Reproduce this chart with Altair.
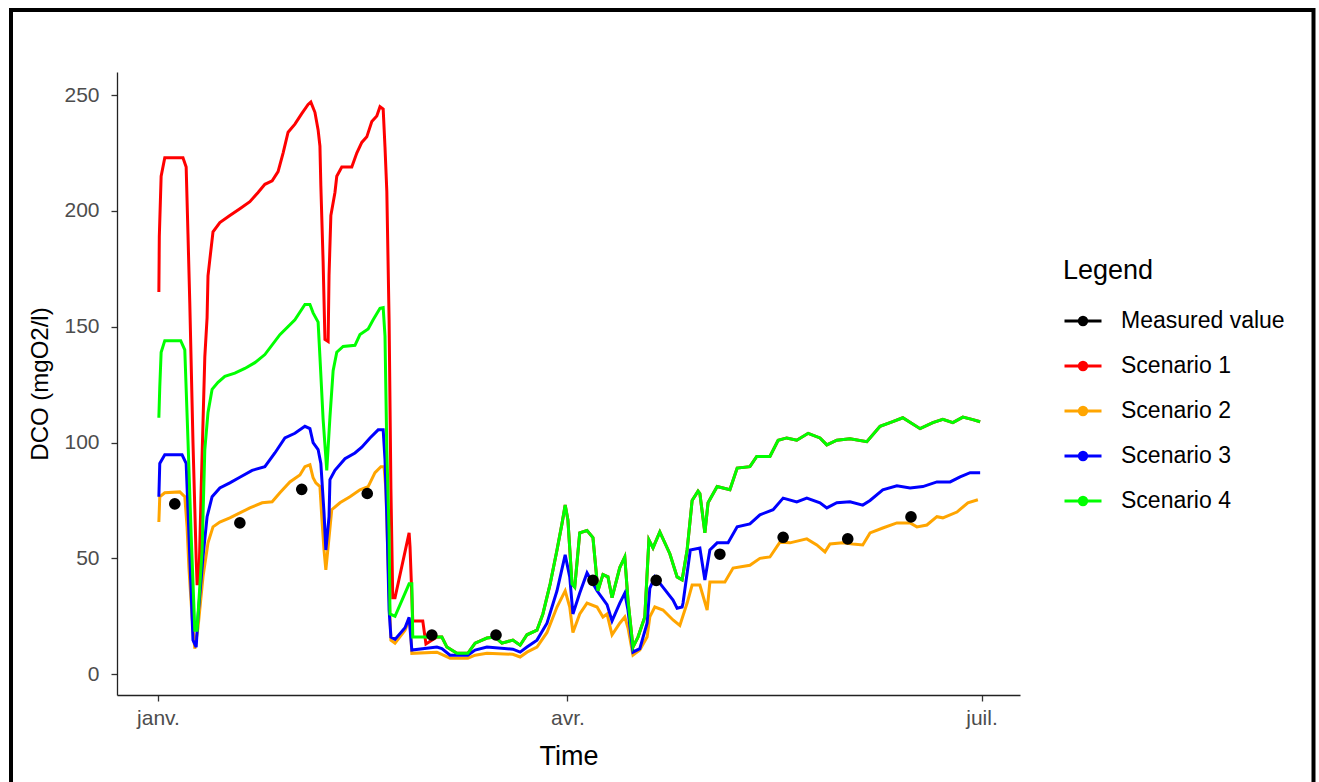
import altair as alt
import pandas as pd

# ---------------- data (day offsets from 1 Jan, values in mgO2/l) ----------------
SERIES_NAMES = ["Measured value", "Scenario 1", "Scenario 2", "Scenario 3", "Scenario 4"]
SERIES_COLORS = ["#000000", "#FF0000", "#FFA500", "#0000FF", "#00FF00"]

S1_DAYS = [0.2, 0.3, 0.7, 1.5, 5.5, 6.2, 6.6, 7.0, 7.7, 8.4, 8.6, 9.0, 9.5, 10.3, 10.8,
           11.0, 11.4, 12.1, 13.6, 15.8, 18.0, 20.2, 22.0, 23.5, 25.1, 26.4, 27.5, 28.6,
           30.1, 31.6, 33.0, 33.6, 34.5, 35.2, 35.6, 35.8, 36.3, 36.7, 37.4, 37.6, 38.0,
           38.9, 39.3, 40.4, 42.6, 43.7, 44.8, 45.9, 47.0, 48.1, 48.8, 49.5, 49.9, 50.3,
           50.8, 51.2, 51.6, 52.1, 55.2, 55.4, 56.0, 58.2, 58.9]
S1_VALS = [165, 189, 215, 223, 223, 219, 190, 160, 100, 50, 39, 39, 80, 137, 154,
           172, 179, 191, 195, 198, 201, 204, 208, 211.5, 213, 217, 225, 234,
           237.5, 242, 246, 247, 242.6, 235, 228, 211, 178, 144.5, 143.6, 172, 198,
           208, 215, 219, 219, 225, 229.6, 232, 238.6, 241, 245, 244, 227.5, 208.5,
           153, 80, 33, 33, 61, 55, 23, 23, 13]

S4_DAYS = [0.2, 0.4, 0.7, 1.5, 5.0, 5.9, 6.6, 7.3, 8.1, 8.6,
           9.7, 10.3, 11.0, 11.9, 13.2, 14.7, 16.9, 19.1, 21.3, 23.5,
           26.8, 30.1, 32.3, 33.4, 34.1, 35.2, 35.6, 36.3, 37.1, 37.8,
           38.5, 39.3, 40.7, 43.3, 44.4, 46.2, 47.3, 48.8, 49.5, 49.9,
           50.3, 50.8, 51.0, 52.1, 55.2, 55.8, 56.0, 61.3, 62.4, 63.5,
           65.7, 68.1, 69.7, 72.3, 74.1, 75.6, 78.0, 79.6, 81.1, 83.3,
           84.6, 86.2, 87.7, 88.8, 89.5, 90.1, 91.0, 91.6, 92.7, 94.3,
           95.6, 96.7, 97.8, 98.9, 99.8, 101.5, 102.6, 103.3, 104.4, 105.5,
           107.0, 107.9, 108.8, 110.3, 112.5, 114.1, 115.2, 116.3, 117.4, 118.7,
           119.1, 120.2, 120.9, 122.9, 125.7, 127.3, 130.1, 131.6, 134.5, 136.3,
           138.2, 140.4, 142.9, 145.5, 147.0, 149.2, 152.1, 155.8, 158.7, 161.5,
           163.7, 167.5, 170.3, 172.5, 174.7, 176.9, 178.9, 180.7]
S4_VALS = [110.7, 124, 139, 144, 144, 140, 101, 60, 19, 19,
           53.6, 97, 113, 123, 126, 128.6, 130, 132, 134.5, 138,
           146.6, 153, 159.6, 159.6, 156, 152, 137, 110, 88, 111,
           131, 139, 141.5, 142, 146.6, 149, 153, 158, 158.3, 146,
           97, 61, 26, 25, 39, 39, 16, 16, 16, 11.7,
           9, 9, 13.4, 15.6, 16, 13.4, 14.7, 12.5, 17, 19,
           26, 39, 53.6, 65, 73, 66.6, 39, 37.6, 61, 62,
           59, 36, 43, 42, 33, 46, 50.6, 32, 11.7, 16,
           24.7, 58, 54.5, 61.4, 52, 42, 40.7, 53.6, 75, 79,
           78, 61, 74, 81, 79.6, 89, 89.6, 94, 94, 101,
           102, 101, 104, 102, 99, 101, 101.6, 100.4, 107, 109,
           110.7, 106, 108.6, 110, 108.6, 111, 110, 109]

S3_DAYS = [0.2, 0.4, 1.5, 5.3, 6.2, 6.6, 7.7, 8.4, 8.8, 9.9,
           10.8, 11.9, 13.6, 15.8, 18.0, 20.7, 23.5, 25.7, 27.9, 30.1,
           32.3, 33.4, 34.1, 35.2, 35.8, 36.5, 36.9, 37.6, 37.8, 38.9,
           41.1, 43.3, 44.8, 46.6, 48.4, 49.5, 49.9, 50.3, 50.8, 51.2,
           52.1, 54.3, 55.2, 55.8, 61.3, 62.4, 64.2, 68.1, 69.7, 72.3,
           78.0, 79.6, 81.1, 83.3, 85.5, 87.7, 89.5, 90.5, 91.2, 92.7,
           94.3, 96.5, 98.7, 99.8, 101.5, 102.6, 103.3, 104.4, 105.9, 107.5,
           108.1, 109.2, 110.8, 113.2, 114.1, 115.2, 115.4, 117.0, 119.1, 120.2,
           121.3, 122.9, 125.3, 127.3, 130.1, 132.3, 135.2, 137.4, 140.4, 142.6,
           145.5, 147.0, 149.2, 152.1, 154.9, 156.5, 159.3, 162.4, 165.3, 168.1,
           171.2, 174.1, 176.3, 178.5, 180.7]
S3_VALS = [76.6, 91, 94.7, 94.7, 91, 71, 14.7, 11.7, 24.7, 50.6,
           68, 76.6, 80.4, 82.6, 85, 88, 89.6, 95.5, 102, 104,
           107, 106, 100, 97, 91, 69.6, 53.6, 68, 84, 88,
           93, 95.5, 98, 102, 105.5, 105.5, 92.6, 68, 27.7, 16,
           15, 20, 24.5, 10.4, 11.7, 11, 8.2, 8.2, 10.4, 11.7,
           10.8, 9.5, 11.7, 14.7, 22, 36, 51.5, 42, 26, 35,
           43.7, 36, 30, 23, 30.7, 35, 27.7, 9.5, 11, 22,
           37, 42, 38, 32, 28.5, 29, 30.7, 53.6, 54.5, 40.7,
           53.6, 56.7, 56.7, 63.6, 64.9, 68.8, 71, 76, 74.4, 76,
           74, 71.8, 74, 74.4, 73, 75, 79.6, 81.3, 80.4, 81,
           83, 83, 85.2, 87, 87]

S2_DAYS = [0.2, 0.4, 1.5, 4.8, 5.9, 6.4, 6.8, 7.5, 8.1, 8.8,
           9.9, 11.0, 12.1, 13.6, 15.8, 18.0, 20.2, 22.9, 25.1, 26.8,
           29.0, 31.2, 32.3, 33.4, 34.1, 34.7, 35.6, 36.0, 36.5, 36.9,
           37.6, 38.2, 40.0, 42.2, 44.4, 46.2, 47.7, 49.0, 49.7, 50.1,
           50.5, 50.8, 51.2, 52.1, 54.3, 54.9, 55.4, 55.8, 61.3, 64.2,
           68.1, 69.7, 72.3, 78.0, 79.6, 81.1, 83.3, 85.5, 87.7, 89.5,
           90.5, 91.2, 92.7, 94.3, 96.5, 97.8, 98.7, 99.8, 101.5, 102.6,
           103.3, 104.4, 105.9, 107.5, 108.1, 109.2, 111.0, 113.2, 114.7, 116.3,
           117.4, 119.1, 120.7, 121.3, 124.6, 126.4, 130.1, 132.3, 134.5, 136.7,
           138.9, 142.6, 144.8, 146.6, 147.7, 150.5, 152.7, 154.9, 156.5, 159.3,
           162.4, 165.3, 166.8, 169.0, 171.2, 172.5, 175.6, 178.0, 180.2]
S2_VALS = [65.7, 76.6, 78.3, 78.7, 76.6, 63.6, 46, 24.7, 11, 20,
           42, 56.7, 63.6, 65.7, 67.5, 69.6, 71.8, 74, 74.4, 78.3,
           83, 86, 89.6, 90.4, 84.8, 82.6, 81, 68, 53.6, 45,
           59, 71, 74, 76.6, 79.6, 81, 87, 89.6, 89.6, 79.6,
           53.6, 35, 14.7, 13.4, 19, 22, 23, 9, 9.5, 6.9,
           6.9, 8.2, 9, 8.6, 7.4, 9.5, 11.7, 18, 29, 36,
           29, 18, 26, 30.7, 29, 24.7, 26, 17, 22, 24.7,
           20, 8.2, 10.4, 16, 24.7, 29, 27.7, 23.4, 21, 30.7,
           38.5, 38.5, 27.7, 39.8, 39.8, 45.8, 47, 50, 50.6, 57,
           56.7, 58.4, 55.8, 52.8, 56.2, 56.7, 56.2, 55.8, 61, 63.1,
           65.3, 65.3, 63.6, 64.4, 68, 67.5, 70, 74, 75.3]

MEAS_DAYS = [3.7, 18.0, 31.6, 46.0, 60.2, 74.3, 95.6, 109.5, 123.5, 137.4, 151.6, 165.5]
MEAS_VALS = [73.5, 65.3, 79.8, 78.0, 16.9, 16.9, 40.5, 40.5, 51.8, 59.1, 58.4, 67.9]

# ---------------- build tables ----------------
BASE = pd.Timestamp("2021-01-01")


def iso(days):
    return [(BASE + pd.Timedelta(days=float(d))).strftime("%Y-%m-%dT%H:%M:%SZ") for d in days]


# Scenario 1 coincides with Scenario 4 after early February (hidden underneath)
s1_days = S1_DAYS + [d for d in S4_DAYS if d > S1_DAYS[-1]]
s1_vals = S1_VALS + [v for d, v in zip(S4_DAYS, S4_VALS) if d > S1_DAYS[-1]]

series = [
    ("Scenario 1", s1_days, s1_vals),
    ("Scenario 2", S2_DAYS, S2_VALS),
    ("Scenario 3", S3_DAYS, S3_VALS),
    ("Scenario 4", S4_DAYS, S4_VALS),
]

FONT = "Liberation Sans"

x_scale = alt.Scale(
    type="utc",
    domain=[alt.DateTime(year=2020, month=12, date=23, utc=True),
            alt.DateTime(year=2021, month=7, date=9, hours=11, utc=True)],
)
y_scale = alt.Scale(domain=[-9, 260], nice=False, zero=False)
color_scale = alt.Scale(domain=SERIES_NAMES, range=SERIES_COLORS)

x_axis = alt.Axis(
    values=[alt.DateTime(year=2021, month=m, date=1, utc=True) for m in (1, 4, 7)],
    labelExpr="['janv.','févr.','mars','avr.','mai','juin','juil.','août','sept.','oct.','nov.','déc.'][utcmonth(datum.value)]",
    title="Time", grid=False,
)
y_axis = alt.Axis(values=[0, 50, 100, 150, 200, 250], title="DCO (mgO2/l)", grid=False)

SYMBOL = ("M-1,0L1,0 "
          "M-0.2,0A0.2,0.2 0 1,0 0.2,0A0.2,0.2 0 1,0 -0.2,0 "
          "M-0.08,0A0.08,0.08 0 1,0 0.08,0A0.08,0.08 0 1,0 -0.08,0")

legend = alt.Legend(
    title="Legend", orient="none", legendX=946, legendY=186,
    symbolType=SYMBOL, symbolSize=1369, symbolStrokeWidth=3,
    labelFont=FONT, labelFontSize=23, labelColor="black", labelOffset=18,
    labelLimit=400,
    titleFont=FONT, titleFontSize=27, titleFontWeight="normal", titleColor="black",
    titlePadding=16, rowPadding=13, padding=0,
)

layers = []

frame = alt.Chart(alt.Data(values=[{"f": 1}])).mark_rect(
    filled=False, stroke="black", strokeWidth=4
).encode(x=alt.value(-106), x2=alt.value(1196.5), y=alt.value(-62), y2=alt.value(800))
layers.append(frame)

for name, days, vals in series:
    df = pd.DataFrame({"t": iso(days), "v": vals, "series": name})
    layers.append(
        alt.Chart(df).mark_line(strokeWidth=3).encode(
            x=alt.X("t:T", scale=x_scale, axis=x_axis),
            y=alt.Y("v:Q", scale=y_scale, axis=y_axis),
            color=alt.Color("series:N", scale=color_scale, legend=legend),
        )
    )

meas = pd.DataFrame({"t": iso(MEAS_DAYS), "v": MEAS_VALS, "series": "Measured value"})
layers.append(
    alt.Chart(meas).mark_circle(size=135, opacity=1).encode(
        x=alt.X("t:T", scale=x_scale, axis=x_axis),
        y=alt.Y("v:Q", scale=y_scale, axis=y_axis),
        color=alt.Color("series:N", scale=color_scale, legend=None),
    )
)

chart = alt.layer(*layers).properties(
    width=903, height=623,
    autosize=alt.AutoSizeParams(type="none"),
    padding={"left": 117, "top": 72, "right": 299, "bottom": 87},
    background="white",
).configure_view(stroke=None).configure_axis(
    labelFont=FONT, labelFontSize=21, labelColor="#4D4D4D",
    titleFont=FONT, titleFontWeight="normal", titleColor="black",
    domainColor="#222222", domainWidth=1.3, tickColor="#333333", tickWidth=1.3,
    tickSize=6,
).configure_axisX(titleFontSize=27, titlePadding=15, labelPadding=6).configure_axisY(
    titleFontSize=24, titlePadding=11, labelPadding=12
)

chart.save("out.html", embed_options={"renderer": "svg", "actions": False})
